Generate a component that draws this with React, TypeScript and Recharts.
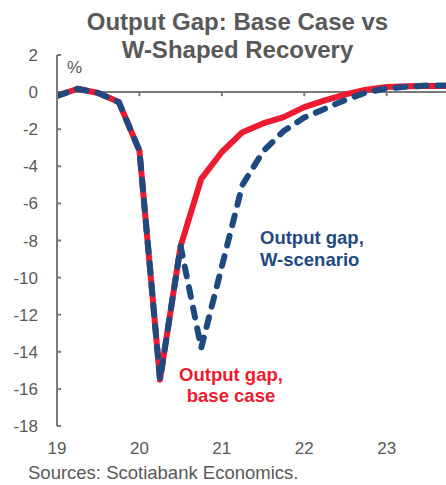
import { LineChart, Line, XAxis, YAxis, ReferenceLine } from 'recharts'

// quarterly points, 19Q1 .. 23Q4
const quarters = [
  19, 19.25, 19.5, 19.75, 20, 20.25, 20.5, 20.75, 21, 21.25,
  21.5, 21.75, 22, 22.25, 22.5, 22.75, 23, 23.25, 23.5, 23.75,
]
const baseCase = [
  -0.2, 0.18, -0.05, -0.54, -3.15, -15.5, -8.3, -4.68, -3.23, -2.16,
  -1.69, -1.35, -0.81, -0.45, -0.12, 0.13, 0.27, 0.32, 0.33, 0.33,
]
const wScenario = [
  -0.2, 0.18, -0.05, -0.54, -3.15, -15.5, -8.3, -13.8, -9.4, -5.0,
  -3.2, -2.1, -1.37, -0.9, -0.42, -0.02, 0.2, 0.29, 0.36, 0.36,
]
const yearTicks = [19, 20, 21, 22, 23]
const gapTicks = [-18, -16, -14, -12, -10, -8, -6, -4, -2, 0, 2]

const data = quarters.map((q, i) => ({ q, base: baseCase[i], w: wScenario[i] }))

const RED = '#ED1B2F'
const BLUE = '#1F4A80'
const GREY = '#595959'
const AXIS = '#7A7A7A'
const FONT = '"Liberation Sans", Arial, sans-serif'

export default function App() {
  return (
    <div style={{ position: 'absolute', left: 0, top: 0, width: 446, height: 485, fontFamily: FONT, background: '#fff', overflow: 'hidden' }}>
      <div style={{ position: 'absolute', left: 0, width: 475, top: 8, textAlign: 'center', fontSize: 24, fontWeight: 'bold', color: GREY, lineHeight: '28px' }}>
        Output Gap: Base Case vs
        <br />
        W-Shaped Recovery
      </div>
      <LineChart width={446} height={485} data={data} margin={{ top: 55, right: 0, bottom: 0, left: 0 }}>
        <XAxis
          dataKey="q"
          type="number"
          domain={[19, 23.72]}
          allowDataOverflow
          ticks={yearTicks}
          axisLine={false}
          tickLine={false}
          tickMargin={10}
          tick={{ fontSize: 17, fill: GREY, fontFamily: FONT }}
          height={59}
        />
        <YAxis
          domain={[-18, 2]}
          ticks={gapTicks}
          interval={0}
          width={57}
          axisLine={{ stroke: AXIS, strokeWidth: 2 }}
          tickLine={false}
          tickMargin={13}
          tick={{ fontSize: 17, fill: GREY, fontFamily: FONT }}
        />
        <ReferenceLine y={0} stroke={AXIS} strokeWidth={2} />
        {yearTicks.slice(1).map((t) => (
          <ReferenceLine key={t} segment={[{ x: t, y: 0 }, { x: t, y: -0.22 }]} stroke={AXIS} strokeWidth={2} />
        ))}
        {gapTicks.map((t) => (
          <ReferenceLine key={'y' + t} segment={[{ x: 19, y: t }, { x: 19.05, y: t }]} stroke={AXIS} strokeWidth={2} />
        ))}
        <Line dataKey="base" stroke={RED} strokeWidth={6} dot={false} strokeLinejoin="round" isAnimationActive={false} />
        <Line
          dataKey="w"
          stroke={BLUE}
          strokeWidth={6}
          strokeDasharray="10 11"
          strokeLinecap="round"
          strokeLinejoin="round"
          dot={false}
          isAnimationActive={false}
        />
      </LineChart>
      <div style={{ position: 'absolute', left: 67, top: 58, fontSize: 17, color: GREY }}>%</div>
      <div style={{ position: 'absolute', left: 260, top: 227, fontSize: 18.5, fontWeight: 'bold', color: BLUE, lineHeight: '22px' }}>
        Output gap,
        <br />
        W-scenario
      </div>
      <div style={{ position: 'absolute', left: 171, width: 120, top: 364, fontSize: 18.5, fontWeight: 'bold', color: RED, lineHeight: '21px', textAlign: 'center' }}>
        Output gap,
        <br />
        base case
      </div>
      <div style={{ position: 'absolute', left: 28, top: 462, fontSize: 18.5, color: GREY, whiteSpace: 'nowrap' }}>
        Sources: Scotiabank Economics.
      </div>
    </div>
  )
}
